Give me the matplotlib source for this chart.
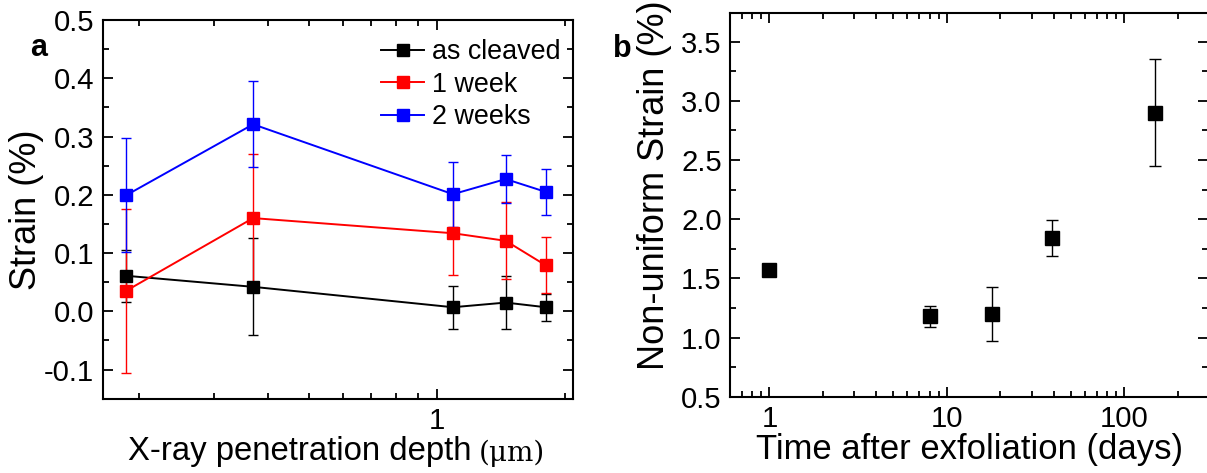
import matplotlib
matplotlib.use("Agg")
import matplotlib.pyplot as plt
from matplotlib import font_manager
from matplotlib.ticker import FixedLocator, NullFormatter, LogLocator, MultipleLocator, FormatStrFormatter

plt.rcParams['font.family'] = ['Liberation Sans', 'DejaVu Sans']
plt.rcParams['axes.unicode_minus'] = False

# Condensed face for horizontal texts, when available
try:
    font_manager.findfont(font_manager.FontProperties(family='Liberation Sans Narrow'),
                          fallback_to_default=False)
    NARROW = ['Liberation Sans Narrow', 'DejaVu Sans']
    NSCALE = 1.0
except ValueError:
    NARROW = ['Liberation Sans', 'DejaVu Sans']
    NSCALE = 0.86

# Panel a: strain vs X-ray penetration depth
depth_um = [0.186, 0.37, 1.09, 1.45, 1.80]
as_cleaved = [0.061, 0.042, 0.007, 0.015, 0.007]
as_cleaved_err = [0.045, 0.083, 0.037, 0.045, 0.023]
one_week = [0.035, 0.160, 0.134, 0.121, 0.079]
one_week_err = [0.141, 0.110, 0.072, 0.066, 0.048]
two_weeks = [0.199, 0.321, 0.201, 0.227, 0.205]
two_weeks_err = [0.098, 0.074, 0.056, 0.041, 0.040]
series_labels = ["as cleaved", "1 week", "2 weeks"]
series_colors = ["black", "red", "blue"]

# Panel b: non-uniform strain vs time after exfoliation
days = [1, 8, 18, 39, 148]
nonuniform = [1.57, 1.18, 1.20, 1.84, 2.90]
nonuniform_err = [0.03, 0.09, 0.23, 0.15, 0.45]

fig = plt.figure(figsize=(12.07, 4.73), dpi=100)
W, H = 1207, 473

def px_axes(x0, y0, x1, y1):
    return fig.add_axes([x0 / W, 1 - y1 / H, (x1 - x0) / W, (y1 - y0) / H])

TICK_FS = 24.5 * NSCALE
XLABEL_FS = 29 * NSCALE
YLABEL_FS = 26

def style_axes(ax):
    for s in ax.spines.values():
        s.set_linewidth(1.5)
    ax.tick_params(which='both', direction='in', top=True, right=True, width=1.3)
    ax.tick_params(which='major', length=7, pad=6)
    ax.tick_params(which='minor', length=4)
    for lab in ax.get_xticklabels() + ax.get_yticklabels():
        lab.set_family(NARROW)
        lab.set_fontsize(TICK_FS)

# ---- panel a ----
axa = px_axes(102.7, 20, 573.3, 398.7)
handles = []
for y, e, lab, c in zip([as_cleaved, one_week, two_weeks],
                        [as_cleaved_err, one_week_err, two_weeks_err],
                        series_labels, series_colors):
    cont = axa.errorbar(depth_um, y, yerr=e, color=c, marker='s', markersize=8,
                        linewidth=1.4, elinewidth=1.0, capsize=3.5, capthick=1.0,
                        label=lab)
    handles.append(cont[0])
axa.set_xscale('log')
axa.set_xlim(0.164, 2.09)
axa.set_ylim(-0.15, 0.5)
axa.xaxis.set_major_locator(FixedLocator([1]))
axa.xaxis.set_minor_locator(LogLocator(base=10, subs=range(2, 10), numticks=10))
axa.xaxis.set_minor_formatter(NullFormatter())
axa.set_xticklabels(["1"])
axa.yaxis.set_major_locator(MultipleLocator(0.1))
axa.yaxis.set_minor_locator(MultipleLocator(0.05))
axa.yaxis.set_major_formatter(FormatStrFormatter('%.1f'))
style_axes(axa)
axa.set_ylabel("Strain (%)", fontsize=YLABEL_FS)
axa.yaxis.set_label_coords(-0.125, 0.5)
axa.legend(handles, series_labels, loc='upper left', bbox_to_anchor=(0.592, 0.95),
           frameon=False, prop={'family': NARROW, 'size': 22.5 * NSCALE},
           handlelength=1.6, handletextpad=0.3, labelspacing=0.25,
           borderpad=0, borderaxespad=0)
axa.text(-0.155, 0.925, "a", transform=axa.transAxes, fontsize=22,
         fontweight='bold', ha='left', va='center')

# ---- panel b ----
axb = px_axes(730, 12.7, 1208, 396.7)
axb.errorbar(days, nonuniform, yerr=nonuniform_err, color='black', marker='s',
             markersize=10, linestyle='none', elinewidth=1.0, capsize=4,
             capthick=1.0)
axb.set_xscale('log')
axb.set_xlim(0.6, 296)
axb.set_ylim(0.5, 3.745)
axb.xaxis.set_minor_locator(LogLocator(base=10, subs=range(2, 10), numticks=10))
axb.xaxis.set_minor_formatter(NullFormatter())
axb.set_xticks([1, 10, 100])
axb.set_xticklabels(["1", "10", "100"])
axb.yaxis.set_major_locator(MultipleLocator(0.5))
axb.yaxis.set_minor_locator(MultipleLocator(0.25))
axb.yaxis.set_major_formatter(FormatStrFormatter('%.1f'))
style_axes(axb)
axb.set_ylabel("Non-uniform Strain (%)", fontsize=YLABEL_FS)
axb.yaxis.set_label_coords(-0.121, 0.55)
axb.set_xlabel("Time after exfoliation (days)", fontsize=XLABEL_FS,
               family=NARROW, labelpad=0)
axb.text(-0.245, 0.905, "b", transform=axb.transAxes, fontsize=22,
         fontweight='bold', ha='left', va='center')

# x label of panel a, with a smaller unit
main = fig.text(128 / W, 1 - 451 / H, "X-ray penetration depth",
                fontsize=27.5 * NSCALE, family=NARROW, ha='left', va='center')
fig.canvas.draw()
bb = main.get_window_extent()
fig.text((bb.x1 + 7) / W, 1 - 453 / H, "(\u03bcm)", fontsize=20,
         family=['DejaVu Serif'], ha='left', va='center')

fig.savefig("out.png", dpi=100)
